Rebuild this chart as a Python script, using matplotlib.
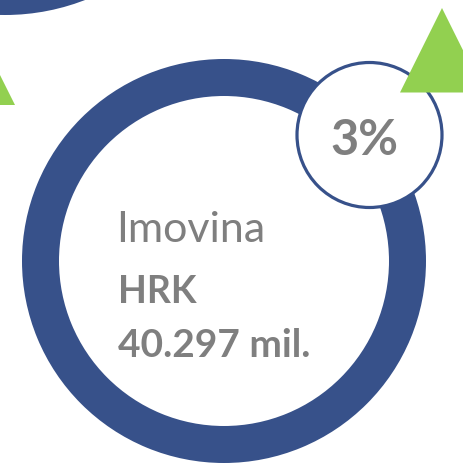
import matplotlib
matplotlib.use('Agg')
import matplotlib.pyplot as plt
from matplotlib.patches import Wedge, Circle, Polygon

# ---- data ----
category = "Imovina"
currency = "HRK"
amount_label = "40.297 mil."
share_pct = 3

# ---- style ----
BLUE = "#37518A"
GREEN = "#92D050"
GRAY = "#7F7F7F"
FONT = ['Lato', 'DejaVu Sans']

fig = plt.figure(figsize=(4.64, 4.64), dpi=100)
ax = fig.add_axes([0, 0, 1, 1])
ax.set_xlim(0, 464)
ax.set_ylim(464, 0)
ax.set_aspect('equal')
ax.axis('off')

# partial ring at top-left (cropped)
ax.add_patch(Wedge((5, -205), 221, 0, 360, width=37, facecolor=BLUE, edgecolor='none', zorder=1))
# main ring
ax.add_patch(Wedge((224, 262), 202, 0, 360, width=37, facecolor=BLUE, edgecolor='none', zorder=1))
# percentage bubble
ax.add_patch(Circle((369.5, 136), 72.5, facecolor='white', edgecolor=BLUE, linewidth=2.3, zorder=2))
# green triangles
ax.add_patch(Polygon([(442, 9), (400, 93.5), (484, 93.5)], closed=True, facecolor=GREEN, edgecolor='none', zorder=3))
ax.add_patch(Polygon([(-27, 22), (-69, 106), (15, 106)], closed=True, facecolor=GREEN, edgecolor='none', zorder=3))

# texts
ax.text(116, 242, category, fontsize=31, color=GRAY, family=FONT, ha='left', va='baseline', zorder=4)
ax.text(118, 303, currency, fontsize=27, color=GRAY, family=FONT, fontweight='bold', ha='left', va='baseline', zorder=4)
ax.text(118, 357, amount_label, fontsize=28, color=GRAY, family=FONT, fontweight='bold', ha='left', va='baseline', zorder=4)
ax.text(364, 155, f"{share_pct}%", fontsize=35, color=GRAY, family=FONT, fontweight='bold', ha='center', va='baseline', zorder=4)

fig.savefig('out.png', dpi=100)
